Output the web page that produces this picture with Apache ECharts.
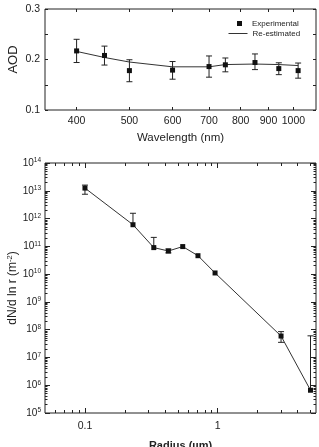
<!DOCTYPE html>
<html>
<head>
<meta charset="utf-8">
<script src="https://cdn.jsdelivr.net/npm/echarts@6/dist/echarts.min.js"></script>
<style>
html, body { margin: 0; padding: 0; background: #fff; }
#main { width: 319px; height: 447px; }
</style>
</head>
<body>
<div id="main"></div>
<script>
// top panel: AOD vs wavelength
const wavelength = [400, 450, 500, 600, 700, 750, 850, 940, 1020];
const aodExp = [0.217, 0.208, 0.178, 0.179, 0.186, 0.1895, 0.194, 0.182, 0.178];
const aodLow = [0.194, 0.189, 0.156, 0.161, 0.165, 0.1756, 0.180, 0.170, 0.163];
const aodHigh = [0.240, 0.2265, 0.1995, 0.196, 0.207, 0.203, 0.211, 0.1935, 0.193];
const aodFit = [0.216, 0.204, 0.195, 0.1855, 0.1855, 0.190, 0.191, 0.190, 0.188];
const wlTicks = [400, 500, 600, 700, 800, 900, 1000];

// bottom panel: size distribution
const radius = [0.1, 0.23, 0.33, 0.425, 0.545, 0.71, 0.955, 3.0, 5.0];
const dndlnr = [1.25e13, 6e11, 9e10, 6.8e10, 9.8e10, 4.6e10, 1.1e10, 5.9e7, 6.6e5];
const dnLow = [7.5e12, 6e11, 9e10, 5.8e10, 9.8e10, 4.6e10, 1.1e10, 3.5e7, 6.6e5];
const dnHigh = [1.6e13, 1.55e12, 2.1e11, 8e10, 9.8e10, 4.6e10, 1.1e10, 8.5e7, 6e7];
const rMajor = [0.1, 1];
const rMinor = [0.06, 0.07, 0.08, 0.09, 0.2, 0.3, 0.4, 0.5, 0.6, 0.7, 0.8, 0.9, 2, 3, 4, 5];
const yDecades = [5, 6, 7, 8, 9, 10, 11, 12, 13, 14];

const yMajor = yDecades.map(e => Math.pow(10, e));
const yMinor = [];
yDecades.slice(0, -1).forEach(e => {
  for (let k = 2; k <= 9; k++) yMinor.push(k * Math.pow(10, e));
});

const FONT = 'Liberation Sans, Arial, sans-serif';
const INK = '#222';

function errorBar(params, api) {
  const x = api.value(0), v = api.value(1), lo = api.value(2), hi = api.value(3);
  const pl = api.coord([x, lo]), ph = api.coord([x, hi]);
  const w = 3;
  const style = { stroke: INK, lineWidth: 1, fill: null };
  const kids = [{ type: 'line', shape: { x1: pl[0], y1: pl[1], x2: ph[0], y2: ph[1] }, style: style }];
  if (hi !== v) kids.push({ type: 'line', shape: { x1: ph[0] - w, y1: ph[1], x2: ph[0] + w, y2: ph[1] }, style: style });
  if (lo !== v) kids.push({ type: 'line', shape: { x1: pl[0] - w, y1: pl[1], x2: pl[0] + w, y2: pl[1] }, style: style });
  return { type: 'group', children: kids };
}

function tickAxis(grid, pos, type, min, max, ticks, len, label) {
  return {
    type: type, gridIndex: grid, position: pos, min: min, max: max,
    axisLine: { show: false, onZero: false },
    splitLine: { show: false },
    axisTick: { show: true, inside: true, length: len, customValues: ticks, lineStyle: { color: INK } },
    axisLabel: label ? Object.assign({ show: true, customValues: ticks }, label) : { show: false }
  };
}

const supLabel = {
  color: INK, fontFamily: FONT, fontSize: 10, margin: 4,
  formatter: v => '10{s|' + Math.round(Math.log10(v)) + '}',
  rich: { s: { fontSize: 6.5, verticalAlign: 'top', fontFamily: FONT, color: INK, padding: [0, 0, 5, 0] } }
};

const xAxes = [
  Object.assign(tickAxis(0, 'bottom', 'log', 350, 1100, wlTicks, 3,
    { color: INK, fontFamily: FONT, fontSize: 10.5, margin: 6, formatter: v => String(v) }),
    { name: 'Wavelength (nm)', nameLocation: 'middle', nameGap: 22,
      nameTextStyle: { color: INK, fontFamily: FONT, fontSize: 11.5 } }),
  tickAxis(0, 'top', 'log', 350, 1100, wlTicks, 3, null),
  Object.assign(tickAxis(1, 'bottom', 'log', 0.05, 5.5, rMajor, 5,
    { color: INK, fontFamily: FONT, fontSize: 10.5, margin: 8, formatter: v => String(v) }),
    { name: 'Radius (\u00b5m)', nameLocation: 'middle', nameGap: 27,
      nameTextStyle: { color: INK, fontFamily: FONT, fontSize: 11, fontWeight: 'bold' } }),
  tickAxis(1, 'bottom', 'log', 0.05, 5.5, rMinor, 3, null),
  tickAxis(1, 'top', 'log', 0.05, 5.5, rMajor, 5, null),
  tickAxis(1, 'top', 'log', 0.05, 5.5, rMinor, 3, null)
];

const yAxes = [
  {
    type: 'value', gridIndex: 0, position: 'left', min: 0.1, max: 0.3, interval: 0.1,
    name: 'AOD', nameLocation: 'middle', nameGap: 25, nameMoveOverlap: false,
    nameTextStyle: { color: INK, fontFamily: FONT, fontSize: 13 },
    axisLine: { show: false }, splitLine: { show: false },
    axisTick: { show: true, inside: true, length: 3, lineStyle: { color: INK } },
    minorTick: { show: true, splitNumber: 2, length: 3, lineStyle: { color: INK } },
    axisLabel: { color: INK, fontFamily: FONT, fontSize: 10.5, margin: 5, formatter: v => v.toFixed(1) }
  },
  {
    type: 'value', gridIndex: 0, position: 'right', min: 0.1, max: 0.3, interval: 0.1,
    axisLine: { show: false }, splitLine: { show: false },
    axisTick: { show: true, inside: true, length: 3, lineStyle: { color: INK } },
    minorTick: { show: true, splitNumber: 2, length: 3, lineStyle: { color: INK } },
    axisLabel: { show: false }
  },
  Object.assign(tickAxis(1, 'left', 'log', 1e5, 1e14, yMajor, 5, supLabel),
    { name: 'dN/d ln r (m{s|-2})', nameLocation: 'middle', nameGap: 25, nameMoveOverlap: false,
      nameTextStyle: { color: INK, fontFamily: FONT, fontSize: 12,
        rich: { s: { fontSize: 7.5, verticalAlign: 'top', fontFamily: FONT, color: INK, padding: [0, 0, 6, 0] } } } }),
  tickAxis(1, 'left', 'log', 1e5, 1e14, yMinor, 2.5, null),
  tickAxis(1, 'right', 'log', 1e5, 1e14, yMajor, 5, null),
  tickAxis(1, 'right', 'log', 1e5, 1e14, yMinor, 2.5, null)
];

const legendText = { color: INK, fontFamily: FONT, fontSize: 8, lineHeight: 9 };

const option = {
  animation: false,
  backgroundColor: '#fff',
  textStyle: { fontFamily: FONT },
  grid: [
    { left: 45, right: 3, top: 9, height: 101, outerBoundsMode: 'none',
      show: true, borderColor: INK, borderWidth: 1, backgroundColor: 'transparent' },
    { left: 45, right: 3, top: 163, height: 250, outerBoundsMode: 'none',
      show: true, borderColor: INK, borderWidth: 1, backgroundColor: 'transparent' }
  ],
  legend: [
    {
      left: 237, top: 19, itemWidth: 5, itemHeight: 5, padding: 0,
      data: ['Experimental'],
      textStyle: Object.assign({ padding: [0, 0, 0, 5] }, legendText)
    },
    {
      left: 228, top: 29, itemWidth: 19, itemHeight: 5, padding: 0,
      lineStyle: { width: 1, color: '#333' },
      data: [{ name: 'Re-estimated', itemStyle: { color: 'rgba(0,0,0,0)', borderWidth: 0 } }],
      textStyle: legendText
    }
  ],
  xAxis: xAxes,
  yAxis: yAxes,
  series: [
    {
      name: 'Re-estimated', type: 'line', xAxisIndex: 0, yAxisIndex: 0,
      data: wavelength.map((w, i) => [w, aodFit[i]]),
      symbol: 'none', lineStyle: { color: '#333', width: 1 }, itemStyle: { color: '#333' }
    },
    {
      type: 'custom', xAxisIndex: 0, yAxisIndex: 0, renderItem: errorBar,
      data: wavelength.map((w, i) => [w, aodExp[i], aodLow[i], aodHigh[i]]), z: 3
    },
    {
      name: 'Experimental', type: 'scatter', xAxisIndex: 0, yAxisIndex: 0,
      data: wavelength.map((w, i) => [w, aodExp[i]]),
      symbol: 'rect', symbolSize: 5, itemStyle: { color: '#111', opacity: 1 }, z: 4
    },
    {
      type: 'line', xAxisIndex: 2, yAxisIndex: 2,
      data: radius.map((r, i) => [r, dndlnr[i]]),
      symbol: 'rect', symbolSize: 5, showSymbol: true,
      lineStyle: { color: '#333', width: 1 }, itemStyle: { color: '#111' }
    },
    {
      type: 'custom', xAxisIndex: 2, yAxisIndex: 2, renderItem: errorBar,
      data: radius.map((r, i) => [r, dndlnr[i], dnLow[i], dnHigh[i]]), z: 3
    }
  ]
};

const chart = echarts.init(document.getElementById('main'), null, { renderer: 'canvas' });
chart.setOption(option);
</script>
</body>
</html>
